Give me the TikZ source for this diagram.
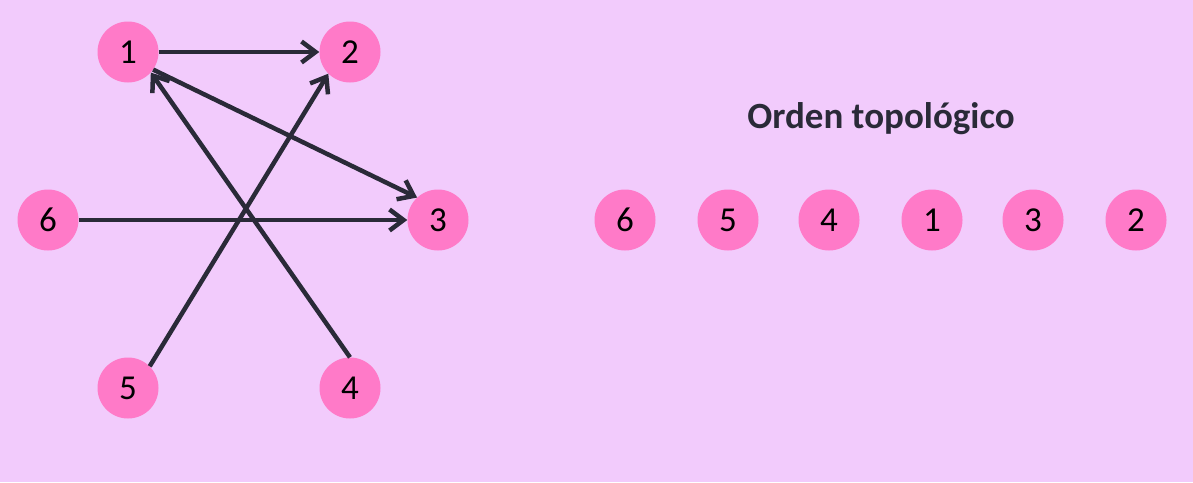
\documentclass[tikz,border=0pt]{standalone}
\usepackage{fontspec}
\setmainfont{Carlito}
\usetikzlibrary{arrows.meta}
\definecolor{bg}{RGB}{242,203,252}
\definecolor{pinkn}{RGB}{255,122,200}
\definecolor{ink}{RGB}{42,42,56}
\begin{document}
\begin{tikzpicture}[x=1pt,y=-1pt,
  vtx/.style={circle,fill=pinkn,minimum size=61pt,inner sep=0pt,font=\fontsize{35}{38}\selectfont,text=black},
  edge/.style={draw=ink,line width=4.5pt,-{Straight Barb[length=14pt,width=21pt,line width=4.5pt]}}]
\fill[bg] (0,0) rectangle (1193,482);
\useasboundingbox (0,0) rectangle (1193,482);
\node[vtx] (n1) at (128,52) {1};
\node[vtx] (n2) at (350,52) {2};
\node[vtx] (n3) at (438,220) {3};
\node[vtx] (n6) at (48,220) {6};
\node[vtx] (n5) at (128,388) {5};
\node[vtx] (n4) at (350,388) {4};
\draw[edge] (n1) -- (n2);
\draw[edge] (n1.-35) -- (n3.133);
\draw[edge] (n6) -- (n3);
\draw[edge] (n5.45) -- (n2.225);
\draw[edge] (n4.north) -- (n1.-42);
\node[font=\fontsize{37}{42}\selectfont\bfseries,text=ink] (title) at (881,119) {Orden topológico};
\node[vtx] (t6) at (625,220) {6};
\node[vtx] (t5) at (728,220) {5};
\node[vtx] (t4) at (829,220) {4};
\node[vtx] (t1) at (932,220) {1};
\node[vtx] (t3) at (1033,220) {3};
\node[vtx] (t2) at (1136,220) {2};
\end{tikzpicture}
\end{document}
